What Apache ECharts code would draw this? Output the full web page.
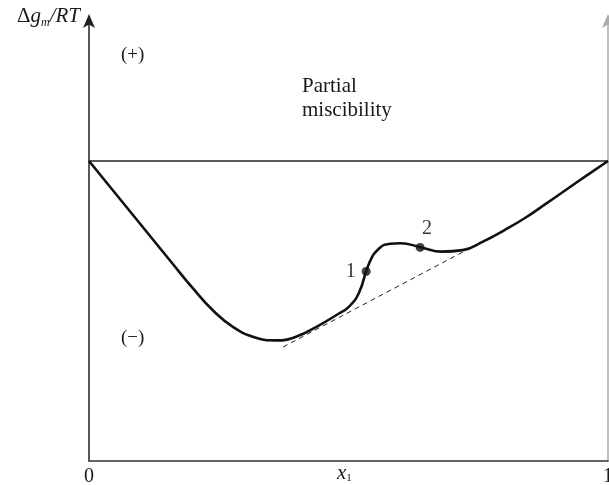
<!DOCTYPE html>
<html>
<head>
<meta charset="utf-8">
<script src="https://cdn.jsdelivr.net/npm/echarts@6/dist/echarts.min.js"></script>
<style>
  html, body { margin: 0; padding: 0; background: #fff; }
  #chart { width: 609px; height: 485px; }
</style>
</head>
<body>
<div id="chart"></div>
<script>
// curve (x1 from 0 to 1, Δg/RT with 0 at the pure-component line)
var curveX = [0, 0.04, 0.08, 0.12, 0.16, 0.20, 0.24, 0.28, 0.32, 0.36, 0.40, 0.44, 0.48, 0.50,
  0.52, 0.54, 0.56, 0.58, 0.60, 0.64, 0.68, 0.72, 0.76, 0.80, 0.84, 0.88, 0.92, 0.96, 1.00];
var curveY = [0, -0.085, -0.170, -0.255, -0.340, -0.424, -0.500, -0.556, -0.588, -0.598, -0.585, -0.551, -0.510, -0.487,
  -0.440, -0.340, -0.290, -0.276, -0.274, -0.288, -0.302, -0.297, -0.268, -0.231, -0.190, -0.143, -0.095, -0.047, 0];
var tangentX = [0.374, 0.724];
var tangentY = [-0.620, -0.300];
var pointX = [0.534, 0.638];
var pointY = [-0.368, -0.288];
var pointNames = ['1', '2'];
var baseX = [0, 1];
var baseY = [0, 0];

var serif = '"Liberation Serif", "DejaVu Serif", serif';
var ink = '#1a1a1a';

function zip(xs, ys) {
  return xs.map(function (x, i) { return [x, ys[i]]; });
}

var chart = echarts.init(document.getElementById('chart'));
chart.setOption({
  animation: false,
  grid: { left: 89, right: 1, top: 20, bottom: 24, outerBoundsMode: 'none', containLabel: false },
  xAxis: {
    type: 'value',
    min: 0,
    max: 1,
    interval: 1,
    axisLine: { onZero: false, lineStyle: { color: '#333', width: 1.5 } },
    axisTick: { show: false },
    splitLine: { show: false },
    axisLabel: { fontFamily: serif, fontSize: 20, color: ink, margin: 6 }
  },
  yAxis: [{
    type: 'value',
    min: -1,
    max: 0.47,
    axisLine: {
      show: true,
      onZero: false,
      symbol: ['none', 'arrow'],
      symbolSize: [9, 14],
      symbolOffset: [0, 6],
      lineStyle: { color: '#222', width: 1.5 }
    },
    axisTick: { show: false },
    axisLabel: { show: false },
    splitLine: { show: false }
  }, {
    type: 'value',
    position: 'right',
    min: -1,
    max: 0.47,
    axisLine: {
      show: true,
      onZero: false,
      symbol: ['none', 'arrow'],
      symbolSize: [9, 14],
      symbolOffset: [0, 6],
      lineStyle: { color: '#aaa', width: 1.5 }
    },
    axisTick: { show: false },
    axisLabel: { show: false },
    splitLine: { show: false }
  }],
  graphic: [
    {
      type: 'text', right: 529, top: 6,
      style: {
        text: '{n|Δ}{i|g}{m|m}{i|/RT}',
        rich: {
          n: { fontFamily: serif, fontSize: 21, fill: ink },
          i: { fontFamily: serif, fontStyle: 'italic', fontSize: 21, fill: ink },
          m: { fontFamily: serif, fontStyle: 'italic', fontSize: 12, fill: ink, padding: [12, 0, 0, 0] }
        }
      }
    },
    {
      type: 'text', left: 337, top: 463,
      style: {
        text: '{i|x}{s|1}',
        rich: {
          i: { fontFamily: serif, fontStyle: 'italic', fontSize: 21, fill: ink },
          s: { fontFamily: serif, fontSize: 11, fill: ink, padding: [10, 0, 0, 0] }
        }
      }
    },
    { type: 'text', left: 121, top: 46, style: { text: '(+)', fontFamily: serif, fontSize: 19, fill: ink } },
    { type: 'text', left: 302, top: 74, style: { text: 'Partial\nmiscibility', fontFamily: serif, fontSize: 21, lineHeight: 24, fill: ink } },
    { type: 'text', left: 121, top: 329, style: { text: '(−)', fontFamily: serif, fontSize: 19, fill: ink } }
  ],
  series: [
    {
      type: 'line',
      data: zip(baseX, baseY),
      symbol: 'none',
      lineStyle: { color: '#222', width: 1.5 }
    },
    {
      type: 'line',
      data: zip(tangentX, tangentY),
      symbol: 'none',
      lineStyle: { color: '#222', width: 1, type: [5, 4] }
    },
    {
      type: 'line',
      data: zip(curveX, curveY),
      symbol: 'none',
      smooth: 0.5,
      lineStyle: { color: '#111', width: 2.6 }
    },
    {
      type: 'scatter',
      data: pointX.map(function (x, i) {
        return {
          value: [x, pointY[i]],
          name: pointNames[i],
          label: i === 0
            ? { position: 'left', distance: 6 }
            : { position: 'top', distance: 4, offset: [7, 0] }
        };
      }),
      symbolSize: 9,
      itemStyle: { color: '#111' },
      label: {
        show: true,
        formatter: '{b}',
        fontFamily: serif,
        fontSize: 20,
        color: '#000'
      },
      z: 5
    }
  ]
});
</script>
</body>
</html>
